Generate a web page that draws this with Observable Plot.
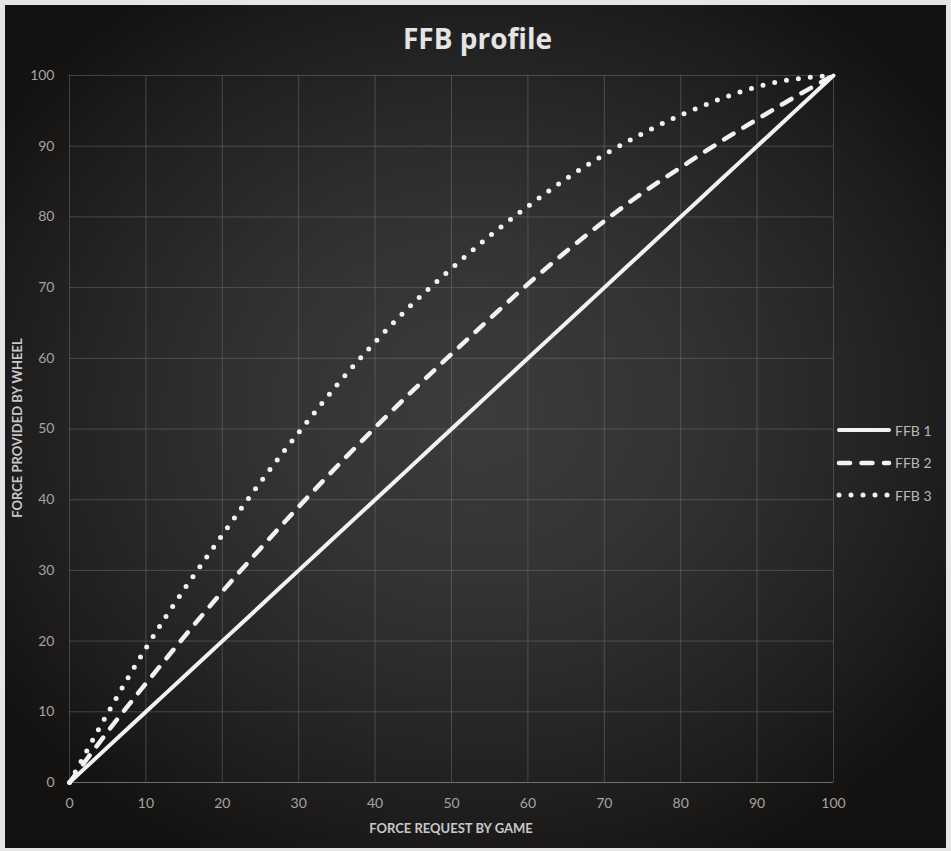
<!DOCTYPE html>
<html>
<head>
<meta charset="utf-8">
<script src="https://cdn.jsdelivr.net/npm/d3@7"></script>
<script src="https://cdn.jsdelivr.net/npm/@observablehq/plot@0.6"></script>
<style>
  html, body { margin: 0; padding: 0; background: #e6e6e6; }
  #page { position: relative; width: 951px; height: 851px; overflow: hidden; }
  #panel {
    position: absolute; left: 5px; top: 5px; width: 941px; height: 843px;
    background: radial-gradient(ellipse 62% 60% at 50% 48%, #3c3c3e 0%, #333335 35%, #242324 70%, #141210 100%);
  }
  #chart { position: absolute; left: 0; top: 0; }
  .title {
    position: absolute; left: 0; width: 951px; top: 19px; text-align: center;
    font: bold 28px "Open Sans", sans-serif; color: #e4e4e4; padding-left: 2px;
  }
  .xtitle {
    position: absolute; left: 69px; width: 764px; top: 820px; text-align: center;
    font: bold 13px Lato, sans-serif; color: #c8c8c8;
  }
  .ytitle {
    position: absolute; left: 17px; top: 428px; transform: translate(-50%, -50%) rotate(-90deg);
    white-space: nowrap; font: bold 13px Lato, sans-serif; color: #c8c8c8;
  }
  .legend { position: absolute; left: 836px; top: 414px; }
  .legend .item { display: flex; align-items: center; height: 32.5px; }
  .legend span { font: 14px Lato, sans-serif; color: #b8b8b8; margin-left: 3px; }
</style>
</head>
<body>
<div id="page">
  <div id="panel"></div>
  <div id="chart"></div>
  <div class="title">FFB profile</div>
  <div class="xtitle">FORCE REQUEST BY GAME</div>
  <div class="ytitle">FORCE PROVIDED BY WHEEL</div>
  <div class="legend" id="legend"></div>
</div>
<script>
// Data
const forceRequest = [0, 5, 10, 15, 20, 25, 30, 35, 40, 45, 50, 55, 60, 65, 70, 75, 80, 85, 90, 95, 100];
const ffb1 = [0, 5, 10, 15, 20, 25, 30, 35, 40, 45, 50, 55, 60, 65, 70, 75, 80, 85, 90, 95, 100];
const ffb2 = [0, 7.2, 14, 20.6, 27, 33.1, 39, 44.7, 50.2, 55.5, 60.6, 65.6, 70.5, 75.1, 79.4, 83.4, 87, 90.5, 93.8, 97, 100];
const ffb3 = [0, 9.8, 19, 27.3, 35, 42.5, 49.5, 56.2, 62.3, 67.8, 72.7, 77.3, 81.5, 85.4, 88.8, 91.8, 94.4, 96.6, 98.4, 99.5, 100];
const seriesNames = ["FFB 1", "FFB 2", "FFB 3"];
const xTicks = [0, 10, 20, 30, 40, 50, 60, 70, 80, 90, 100];
const yTicks = [0, 10, 20, 30, 40, 50, 60, 70, 80, 90, 100];

const seriesValues = [ffb1, ffb2, ffb3];
const styles = {
  "FFB 1": {strokeDasharray: null, strokeWidth: 4},
  "FFB 2": {strokeDasharray: "11,11.5", strokeWidth: 4.5},
  "FFB 3": {strokeDasharray: "0,12", strokeWidth: 5}
};

const rows = seriesNames.flatMap((name, si) =>
  forceRequest.map((x, i) => ({series: name, x, y: seriesValues[si][i]}))
);

const lineMarks = seriesNames.map(name => Plot.line(rows.filter(d => d.series === name), {
  x: "x", y: "y", curve: "natural",
  stroke: "#f2f2f2",
  strokeWidth: styles[name].strokeWidth,
  strokeDasharray: styles[name].strokeDasharray,
  strokeLinecap: "round", strokeLinejoin: "round"
}));

const chart = Plot.plot({
  width: 951, height: 851,
  marginLeft: 69, marginRight: 118, marginTop: 75, marginBottom: 69,
  style: {background: "transparent", color: "#a4a4a4", fontFamily: "Lato, sans-serif", fontSize: "14px", overflow: "visible"},
  x: {domain: [0, 100], ticks: xTicks, tickSize: 0, tickPadding: 16, label: null},
  y: {domain: [0, 100], ticks: yTicks, tickSize: 0, tickPadding: 15, label: null},
  marks: [
    Plot.gridX(xTicks, {stroke: "#7a7a7a", strokeOpacity: 0.45, strokeWidth: 1}),
    Plot.gridY(yTicks, {stroke: "#7a7a7a", strokeOpacity: 0.45, strokeWidth: 1}),
    Plot.ruleY([0], {stroke: "#8a8a8a", strokeOpacity: 0.6}),
    ...lineMarks
  ]
});
document.getElementById("chart").appendChild(chart);

// Legend
const legend = document.getElementById("legend");
seriesNames.forEach(name => {
  const item = document.createElement("div");
  item.className = "item";
  const st = styles[name];
  item.innerHTML = `<svg width="56" height="10"><line x1="3" y1="5" x2="53" y2="5" stroke="#f2f2f2" stroke-width="${st.strokeWidth}" stroke-linecap="round" ${st.strokeDasharray ? `stroke-dasharray="${st.strokeDasharray}"` : ""}/></svg><span>${name}</span>`;
  legend.appendChild(item);
});
</script>
</body>
</html>
